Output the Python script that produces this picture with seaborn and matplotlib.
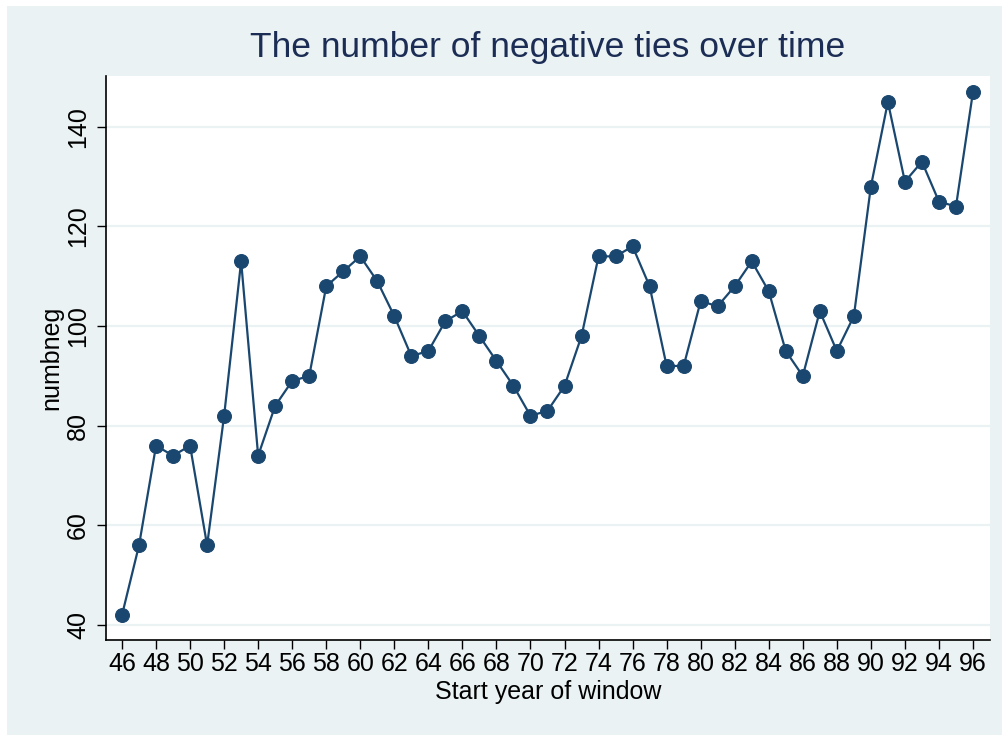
import numpy as np
import pandas as pd
import matplotlib
matplotlib.use('Agg')
import matplotlib.pyplot as plt
import seaborn as sns

## ============================

years = list(range(46, 97))
numbneg = [42, 56, 76, 74, 76, 56, 82, 113, 74, 84,
           89, 90, 108, 111, 114, 109, 102, 94, 95, 101,
           103, 98, 93, 88, 82, 83, 88, 98, 114, 114,
           116, 108, 92, 92, 105, 104, 108, 113, 107, 95,
           90, 103, 95, 102, 128, 145, 129, 133, 125, 124,
           147]
xticks = list(range(46, 97, 2))
yticks = [40, 60, 80, 100, 120, 140]

df = pd.DataFrame({'year': years, 'numbneg': numbneg})

## ============================

sns.set_style('white')
plt.rcParams['font.family'] = ['Liberation Sans', 'DejaVu Sans']

navy = '#1a476f'
bg = '#eaf2f3'

fig = plt.figure(figsize=(10.03, 7.35), dpi=100)
fig.patch.set_facecolor('white')
fig.patches.append(plt.Rectangle((7 / 1003., 0), 1 - 7 / 1003., 1 - 6 / 735.,
                                 transform=fig.transFigure, facecolor=bg,
                                 edgecolor='none', zorder=-10))
ax = fig.add_axes([106 / 1003., 1 - 640 / 735., (990 - 106) / 1003., (640 - 76) / 735.])
ax.set_facecolor('white')

sns.lineplot(ax=ax, data=df, x='year', y='numbneg', color=navy, linewidth=1.6,
             marker='o', markersize=10, markeredgecolor=navy, markerfacecolor=navy)

ax.set_xlim(45.06, 97.0)
ax.set_ylim(37.0, 150.2)
ax.set_xticks(xticks)
ax.set_xticklabels([str(t) for t in xticks], fontsize=18, color='black')
ax.set_yticks(yticks)
ax.set_yticklabels([str(t) for t in yticks], fontsize=18, color='black',
                   rotation=90, va='center')
ax.tick_params(axis='both', direction='out', length=6.5, width=1, color='black',
               bottom=True, left=True)
ax.tick_params(axis='x', pad=2)
ax.tick_params(axis='y', pad=5)
ax.yaxis.grid(True, color=bg, linewidth=1.6)
ax.xaxis.grid(False)
ax.set_axisbelow(True)
for s in ['top', 'right']:
    ax.spines[s].set_visible(False)
for s in ['left', 'bottom']:
    ax.spines[s].set_color('black')
    ax.spines[s].set_linewidth(1.2)

ax.set_xlabel('Start year of window', fontsize=18, color='black', labelpad=3)
ax.set_ylabel('numbneg', fontsize=18, color='black', labelpad=2)
fig.text(548 / 1003., 1 - 48 / 735., 'The number of negative ties over time',
         ha='center', va='center', fontsize=25.5, color='#1c2d55')

fig.savefig('out.png', dpi=100)
